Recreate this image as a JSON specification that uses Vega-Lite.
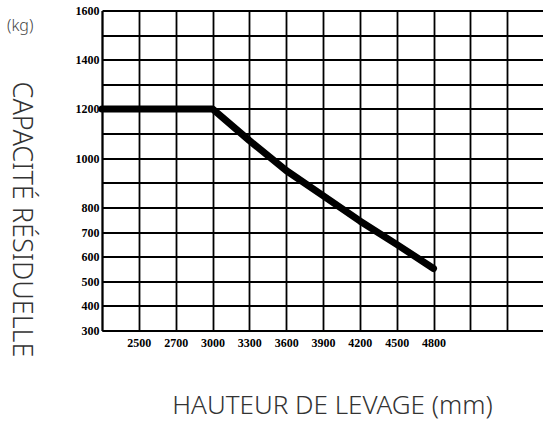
{
  "$schema": "https://vega.github.io/schema/vega-lite/v6.json",
  "width": 442,
  "height": 320,
  "autosize": "none",
  "padding": {"left": 102, "top": 10.5, "right": 0, "bottom": 91},
  "background": "white",
  "config": {"view": {"stroke": null}},
  "title": {
    "text": "(kg)",
    "anchor": "start",
    "frame": "group",
    "orient": "none",
    "dx": -95,
    "dy": 20.5,
    "baseline": "alphabetic",
    "font": "Noto Sans",
    "fontSize": 16,
    "fontWeight": 300,
    "color": "#444444"
  },
  "data": {
    "values": [
      {"hauteur": "min", "capacite": 1200},
      {"hauteur": "2500", "capacite": 1200},
      {"hauteur": "2700", "capacite": 1200},
      {"hauteur": "3000", "capacite": 1200},
      {"hauteur": "3300", "capacite": 1072},
      {"hauteur": "3600", "capacite": 950},
      {"hauteur": "3900", "capacite": 848},
      {"hauteur": "4200", "capacite": 745},
      {"hauteur": "4500", "capacite": 650},
      {"hauteur": "4800", "capacite": 552}
    ]
  },
  "mark": {"type": "line", "color": "black", "strokeWidth": 7, "strokeCap": "round", "strokeJoin": "round"},
  "encoding": {
    "x": {
      "field": "hauteur",
      "type": "ordinal",
      "sort": null,
      "scale": {"type": "point", "padding": 0, "domain": ["min", "2500", "2700", "3000", "3300", "3600", "3900", "4200", "4500", "4800", "max1", "max2", "max3"]},
      "axis": {
        "title": "HAUTEUR DE LEVAGE (mm)",
        "grid": true,
        "gridColor": "black",
        "gridWidth": 1.8,
        "gridOpacity": 1,
        "domainColor": "black",
        "domainWidth": 1.8,
        "ticks": false,
        "labelPadding": 7,
        "labelAngle": 0,
        "labelOverlap": false,
        "labelFont": "Liberation Serif",
        "labelFontWeight": "bold",
        "labelFontSize": 12,
        "labelColor": "black",
        "labelBaseline": "top",
        "labelExpr": "isNaN(toNumber(datum.value)) ? '' : datum.value",
        "titleFont": "Noto Sans",
        "titleFontSize": 26,
        "titleFontWeight": 300,
        "titleColor": "#333333",
        "titleX": 230,
        "titleY": 82.5,
        "titleAlign": "center",
        "titleBaseline": "alphabetic"
      }
    },
    "y": {
      "field": "capacite",
      "type": "quantitative",
      "scale": {"domain": [300, 1600], "nice": false, "zero": false},
      "axis": {
        "title": "CAPACITÉ RÉSIDUELLE",
        "values": [300, 400, 500, 600, 700, 800, 900, 1000, 1100, 1200, 1300, 1400, 1500, 1600],
        "format": "d",
        "labelExpr": "indexof([900, 1100, 1300, 1500], datum.value) >= 0 ? '' : datum.label",
        "grid": true,
        "gridColor": "black",
        "gridWidth": 1.8,
        "gridOpacity": 1,
        "domainColor": "black",
        "domainWidth": 1.8,
        "ticks": false,
        "labelPadding": 3,
        "labelFlush": false,
        "labelOverlap": false,
        "labelFont": "Liberation Serif",
        "labelFontWeight": "bold",
        "labelFontSize": 12,
        "labelColor": "black",
        "labelBaseline": "middle",
        "titleFont": "Noto Sans",
        "titleFontSize": 27,
        "titleFontWeight": 300,
        "titleColor": "#333333",
        "titleAngle": 90,
        "titleX": -90,
        "titleY": 208.5,
        "titleAlign": "center",
        "titleBaseline": "alphabetic"
      }
    }
  }
}
